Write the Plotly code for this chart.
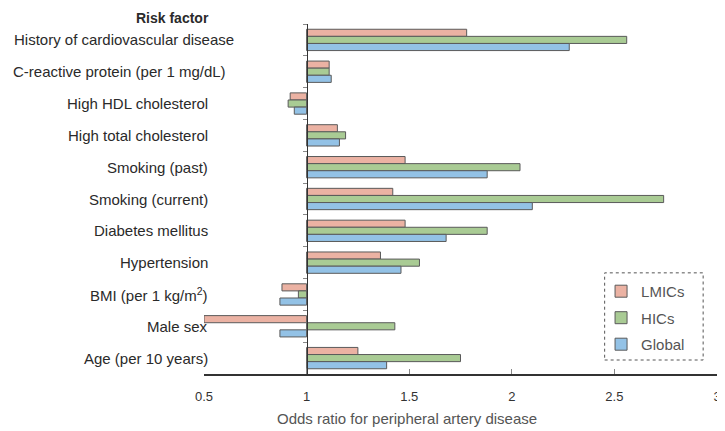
import plotly.graph_objects as go

categories = [
    "History of cardiovascular disease",
    "C-reactive protein (per 1 mg/dL)",
    "High HDL cholesterol",
    "High total cholesterol",
    "Smoking (past)",
    "Smoking (current)",
    "Diabetes mellitus",
    "Hypertension",
    "BMI (per 1 kg/m<sup>2</sup>)",
    "Male sex",
    "Age (per 10 years)",
]
lmics = [1.78, 1.11, 0.92, 1.15, 1.48, 1.42, 1.48, 1.36, 0.88, 0.50, 1.25]
hics = [2.56, 1.11, 0.91, 1.19, 2.04, 2.74, 1.88, 1.55, 0.96, 1.43, 1.75]
global_ = [2.28, 1.12, 0.94, 1.16, 1.88, 2.10, 1.68, 1.46, 0.87, 0.87, 1.39]
series_names = ["LMICs", "HICs", "Global"]
x_ticks = [0.5, 1, 1.5, 2, 2.5, 3]
x_tick_labels = ["0.5", "1", "1.5", "2", "2.5", "3"]

colors = ["#ebb2a3", "#a9cb94", "#93c2e6"]
FONT = "Liberation Sans, Arial, sans-serif"
BASE = 1.0

fig = go.Figure()
for name, vals, col in zip(series_names, [lmics, hics, global_], colors):
    fig.add_trace(go.Bar(
        y=categories,
        x=[v - BASE for v in vals],
        base=BASE,
        orientation="h",
        name=name,
        legendgroup=name,
        marker=dict(color=col, line=dict(color="#5a5a5a", width=1)),
    ))

# category labels (right aligned, with the two long ones extending further right)
label_right = {categories[0]: 0.655, categories[1]: 0.616}
annotations = []
for c in categories:
    annotations.append(dict(
        x=label_right.get(c, 0.529), y=c, xref="x", yref="y",
        text=c, showarrow=False, xanchor="right", yanchor="middle",
        font=dict(family=FONT, size=15, color="#2a2a2a"),
    ))
annotations.append(dict(
    x=-0.062, y=1.0457, xref="paper", yref="paper", text="<b>Risk factor</b>",
    showarrow=False, xanchor="center", yanchor="top",
    font=dict(family=FONT, size=14, color="#2a2a2a"),
))
annotations.append(dict(
    x=0.395, y=-0.126, xref="paper", yref="paper",
    text="Odds ratio for peripheral artery disease",
    showarrow=False, xanchor="center", yanchor="middle",
    font=dict(family=FONT, size=15, color="#555555"),
))

fig.update_layout(
    width=717, height=423,
    margin=dict(l=196, r=4, t=16, b=57),
    paper_bgcolor="white", plot_bgcolor="white",
    barmode="group", bargap=0.33, bargroupgap=0.0,
    font=dict(family=FONT, size=13, color="#2a2a2a"),
    annotations=annotations,
    legend=dict(
        x=0.774, y=0.283, xanchor="left", yanchor="top",
        bgcolor="rgba(0,0,0,0)", borderwidth=0,
        font=dict(family=FONT, size=15, color="#555555"),
        tracegroupgap=4,
    ),
    showlegend=True,
    shapes=[dict(
        type="rect", xref="paper", yref="paper",
        x0=0.781, x1=0.973, y0=0.04, y1=0.289,
        line=dict(color="#555555", width=1, dash="dot"),
    )],
    xaxis=dict(
        range=[0.5, 3], tickvals=x_ticks, ticktext=x_tick_labels,
        showgrid=False, zeroline=False, showline=True,
        linecolor="#333333", linewidth=1.5,
        ticks="inside", ticklen=5, tickcolor="#888888",
        ticklabelstandoff=10,
        tickfont=dict(family=FONT, size=13, color="#333333"),
    ),
    yaxis=dict(
        autorange="reversed", categoryorder="array", categoryarray=categories,
        anchor="free", position=(1 - 0.5) / (3 - 0.5),
        showline=True, linecolor="#333333", linewidth=1.2,
        ticks="outside", ticklen=4, tickcolor="#888888", tickson="boundaries",
        showticklabels=False, showgrid=False, zeroline=False,
    ),
)

fig.write_html("out.html")
